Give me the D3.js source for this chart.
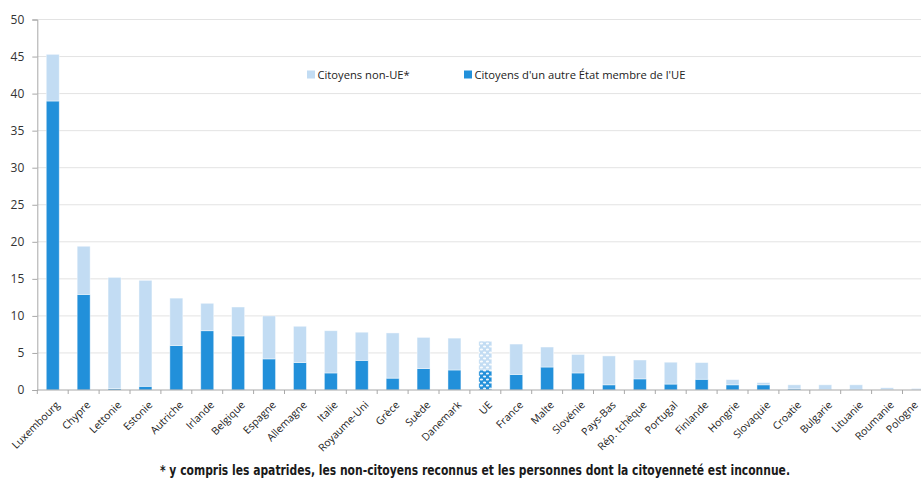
<!DOCTYPE html>
<html>
<head>
<meta charset="utf-8">
<script src="https://cdn.jsdelivr.net/npm/d3@7"></script>
<style>
  html, body { margin: 0; padding: 0; background: #fff; }
  svg { display: block; }
</style>
</head>
<body>
<svg id="chart" width="921" height="482"></svg>
<script>
// Part of the population that holds a foreign citizenship (%), by country
const countries = ["Luxembourg", "Chypre", "Lettonie", "Estonie", "Autriche", "Irlande", "Belgique",
  "Espagne", "Allemagne", "Italie", "Royaume-Uni", "Grèce", "Suède", "Danemark", "UE", "France",
  "Malte", "Slovénie", "Pays-Bas", "Rép. tchèque", "Portugal", "Finlande", "Hongrie", "Slovaquie",
  "Croatie", "Bulgarie", "Lituanie", "Roumanie", "Pologne"];

// Citizens of another EU member state
const autreEtatUE = [39.0, 12.9, 0.2, 0.5, 6.0, 8.0, 7.3, 4.2, 3.7, 2.3, 4.0, 1.6, 2.9, 2.7, 2.7, 2.1,
  3.1, 2.3, 0.7, 1.5, 0.8, 1.45, 0.7, 0.7, 0.15, 0.05, 0.1, 0.05, 0.03];

// Non-EU citizens (incl. stateless persons)
const nonUE = [6.3, 6.5, 15.0, 14.3, 6.4, 3.7, 3.9, 5.8, 4.9, 5.7, 3.8, 6.1, 4.2, 4.3, 3.9, 4.1,
  2.7, 2.5, 3.9, 2.55, 2.95, 2.25, 0.7, 0.3, 0.55, 0.65, 0.6, 0.25, 0.17];

const yTicks = [0, 5, 10, 15, 20, 25, 30, 35, 40, 45, 50];
const legendLabels = ["Citoyens non-UE*", "Citoyens d'un autre État membre de l'UE"];
const footnote = "* y compris les apatrides, les non-citoyens reconnus et les personnes dont la citoyenneté est inconnue.";

const colDark = "#2290da";
const colLight = "#c2dcf3";
const width = 921;

const svg = d3.select("#chart");
const defs = svg.append("defs");

// dotted fill used for the EU aggregate
function dotPattern(id, bg) {
  const p = defs.append("pattern").attr("id", id).attr("patternUnits", "userSpaceOnUse")
    .attr("width", 6).attr("height", 6);
  p.append("rect").attr("width", 6).attr("height", 6).attr("fill", bg);
  p.append("ellipse").attr("cx", 1.5).attr("cy", 1.5).attr("rx", 1.6).attr("ry", 1.1).attr("fill", "#fff").attr("opacity", 0.9);
  p.append("ellipse").attr("cx", 4.5).attr("cy", 4.5).attr("rx", 1.6).attr("ry", 1.1).attr("fill", "#fff").attr("opacity", 0.9);
}
dotPattern("dotDark", colDark);
dotPattern("dotLight", colLight);

const y = d3.scaleLinear().domain([0, 50]).range([390, 19.5]);
const x = d3.scaleBand().domain(countries).range([37.3, 933.4]).paddingInner(0.58).paddingOuter(0.29);
const step = x.step();
const bw = x.bandwidth();

// horizontal gridlines
svg.append("g").selectAll("line").data(yTicks.filter(t => t > 0)).join("line")
  .attr("x1", 37.3).attr("x2", width)
  .attr("y1", d => y(d)).attr("y2", d => y(d))
  .attr("stroke", "#e3e3e3").attr("stroke-width", 1);

// y axis
const yAxis = svg.append("g").attr("transform", "translate(37.3,0)")
  .call(d3.axisLeft(y).tickValues(yTicks).tickSize(5).tickPadding(8));
yAxis.select(".domain").attr("stroke", "#a8a8a8");
yAxis.selectAll(".tick line").attr("stroke", "#a8a8a8");
yAxis.selectAll("text").attr("font-family", "'Open Sans', sans-serif").attr("font-size", 12).attr("fill", "#333");

// stacked bars
const stackData = countries.map((c, i) => ({ country: c, ue: autreEtatUE[i], non: nonUE[i] }));
const series = d3.stack().keys(["ue", "non"])(stackData);

const barG = svg.append("g");
series.forEach(s => {
  barG.append("g").selectAll("rect").data(s).join("rect")
    .attr("x", d => x(d.data.country))
    .attr("width", bw)
    .attr("y", d => y(d[1]))
    .attr("height", d => y(d[0]) - y(d[1]))
    .attr("fill", d => {
      const eu = d.data.country === "UE";
      if (s.key === "ue") return eu ? "url(#dotDark)" : colDark;
      return eu ? "url(#dotLight)" : colLight;
    })
    .attr("stroke", "#ffffff").attr("stroke-opacity", 0.55).attr("stroke-width", 0.8);
});

// x axis line and boundary ticks
svg.append("line").attr("x1", 37.3).attr("x2", width).attr("y1", 390).attr("y2", 390)
  .attr("stroke", "#a8a8a8");
const boundaries = countries.map(c => x(c) + bw / 2 - step / 2).concat([x(countries[countries.length - 1]) + bw / 2 + step / 2]);
svg.append("g").selectAll("line").data(boundaries).join("line")
  .attr("x1", d => d).attr("x2", d => d).attr("y1", 390).attr("y2", 394)
  .attr("stroke", "#a8a8a8");

// rotated category labels (kept inside the right edge)
svg.append("g").selectAll("text").data(countries).join("text")
  .attr("transform", d => `translate(${Math.min(x(d) + bw / 2 + 5, width - 5)},403) rotate(-45)`)
  .attr("dy", "0.35em")
  .attr("text-anchor", "end")
  .attr("font-family", "'Open Sans', sans-serif").attr("font-size", 10.5).attr("fill", "#222")
  .text(d => d);

// legend
const legend = svg.append("g");
const legendX = [307, 464];
[colLight, colDark].forEach((c, i) => {
  legend.append("rect").attr("x", legendX[i]).attr("y", 70.5).attr("width", 8).attr("height", 8).attr("fill", c);
  legend.append("text").attr("x", legendX[i] + 10.5).attr("y", 78.5)
    .attr("font-family", "'Open Sans', sans-serif").attr("font-size", 11.2).attr("fill", "#222")
    .text(legendLabels[i]);
});

// footnote, centred under the axis labels
svg.append("text").attr("x", 475).attr("y", 474.5)
  .attr("text-anchor", "middle")
  .attr("font-family", "'Liberation Sans Narrow', 'DejaVu Sans Condensed', sans-serif")
  .attr("font-size", 14).attr("font-weight", "bold").attr("fill", "#1a1a1a")
  .attr("textLength", 630).attr("lengthAdjust", "spacingAndGlyphs")
  .text(footnote);
</script>
</body>
</html>
